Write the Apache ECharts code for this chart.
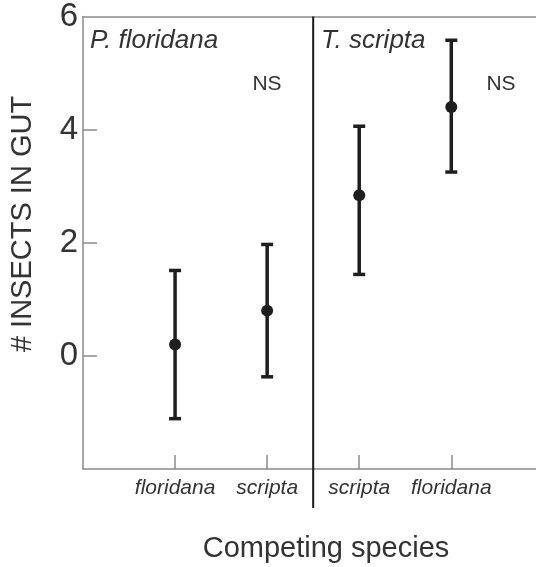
<!DOCTYPE html>
<html>
<head>
<meta charset="utf-8">
<script src="https://cdn.jsdelivr.net/npm/echarts@6/dist/echarts.min.js"></script>
<style>
html,body{margin:0;padding:0;background:#fff;}
#chart{width:536px;height:567px;}
</style>
</head>
<body>
<div id="chart"></div>
<script>
// ---- data ----
const categories = ['floridana', 'scripta', 'scripta', 'floridana'];
const means = [0.20, 0.80, 2.84, 4.40];
const lows  = [-1.11, -0.37, 1.44, 3.25];
const highs = [1.51, 1.97, 4.06, 5.58];
const yTickLabels = [0, 2, 4, 6];
const panelTitles = ['P. floridana', 'T. scripta'];
const nsLabel = 'NS';
const yTitle = '# INSECTS IN GUT';
const xTitle = 'Competing species';
const dividerAt = 2.5;

const FONT = '"Liberation Sans", Arial, Helvetica, sans-serif';
const TXT = '#333';
const AX = '#8a8a8a';

const barData = categories.map((c, i) => [i + 1, means[i], lows[i], highs[i]]);

const chart = echarts.init(document.getElementById('chart'), null, {renderer: 'canvas'});
chart.setOption({
  animation: false,
  backgroundColor: '#fff',
  grid: {left: 83, right: 0, top: 12, bottom: 98},
  xAxis: [{
    type: 'value', min: 0, max: 4.92, interval: 1,
    axisLine: {show: true, onZero: false, lineStyle: {color: AX, width: 1.5}},
    axisTick: {show: true, inside: true, length: 14, customValues: [1, 2, 3, 4], lineStyle: {color: AX, width: 1.5}},
    axisLabel: {show: true, customValues: [1, 2, 3, 4], margin: 9,
      formatter: v => categories[Math.round(v) - 1] || '',
      fontFamily: FONT, fontStyle: 'italic', fontSize: 21, color: TXT},
    splitLine: {show: false}
  }, {
    type: 'value', min: 0, max: 4.92, position: 'top',
    axisLine: {show: true, onZero: false, lineStyle: {color: AX, width: 1.5}},
    axisTick: {show: false}, axisLabel: {show: false}, splitLine: {show: false}
  }],
  yAxis: {
    type: 'value', min: -2, max: 6, interval: 2,
    axisLine: {show: true, onZero: false, lineStyle: {color: AX, width: 1.5}},
    axisTick: {show: true, inside: true, length: 14, customValues: [0, 2, 4], lineStyle: {color: AX, width: 1.5}},
    axisLabel: {show: true, customValues: yTickLabels, margin: 5, padding: [10, 0, 0, 0],
      fontFamily: FONT, fontSize: 33, color: TXT},
    splitLine: {show: false}
  },
  graphic: [
    {type: 'text', left: 90, top: 28, style: {text: panelTitles[0], font: 'italic 26px ' + FONT, fill: TXT}},
    {type: 'text', left: 321, top: 28, style: {text: panelTitles[1], font: 'italic 26px ' + FONT, fill: TXT}},
    {type: 'text', x: 267, y: 84, style: {text: nsLabel, font: '21px ' + FONT, fill: TXT, align: 'center', verticalAlign: 'middle'}},
    {type: 'text', x: 501, y: 84, style: {text: nsLabel, font: '21px ' + FONT, fill: TXT, align: 'center', verticalAlign: 'middle'}},
    {type: 'text', x: 23, y: 224, rotation: Math.PI / 2, style: {text: yTitle, font: '29px ' + FONT, fill: TXT, align: 'center', verticalAlign: 'middle'}},
    {type: 'text', x: 326, y: 549, style: {text: xTitle, font: '29px ' + FONT, fill: TXT, align: 'center', verticalAlign: 'middle'}}
  ],
  series: [{
    type: 'custom',
    clip: false,
    data: [[dividerAt]],
    renderItem: function (params, api) {
      const t = api.coord([api.value(0), 6]);
      const b = api.coord([api.value(0), -2]);
      return {type: 'line', shape: {x1: t[0], y1: t[1], x2: b[0], y2: b[1] + 39},
        style: {stroke: '#1a1a1a', lineWidth: 2}};
    }
  }, {
    type: 'custom',
    clip: false,
    data: barData,
    renderItem: function (params, api) {
      const x = api.value(0);
      const pm = api.coord([x, api.value(1)]);
      const pl = api.coord([x, api.value(2)]);
      const ph = api.coord([x, api.value(3)]);
      const hw = 6;
      const st = {stroke: '#1e1e1e', lineWidth: 3.5};
      return {type: 'group', children: [
        {type: 'line', shape: {x1: pl[0], y1: pl[1], x2: ph[0], y2: ph[1]}, style: st},
        {type: 'line', shape: {x1: ph[0] - hw, y1: ph[1], x2: ph[0] + hw, y2: ph[1]}, style: st},
        {type: 'line', shape: {x1: pl[0] - hw, y1: pl[1], x2: pl[0] + hw, y2: pl[1]}, style: st},
        {type: 'circle', shape: {cx: pm[0], cy: pm[1], r: 6}, style: {fill: '#1e1e1e'}}
      ]};
    }
  }]
});
</script>
</body>
</html>
